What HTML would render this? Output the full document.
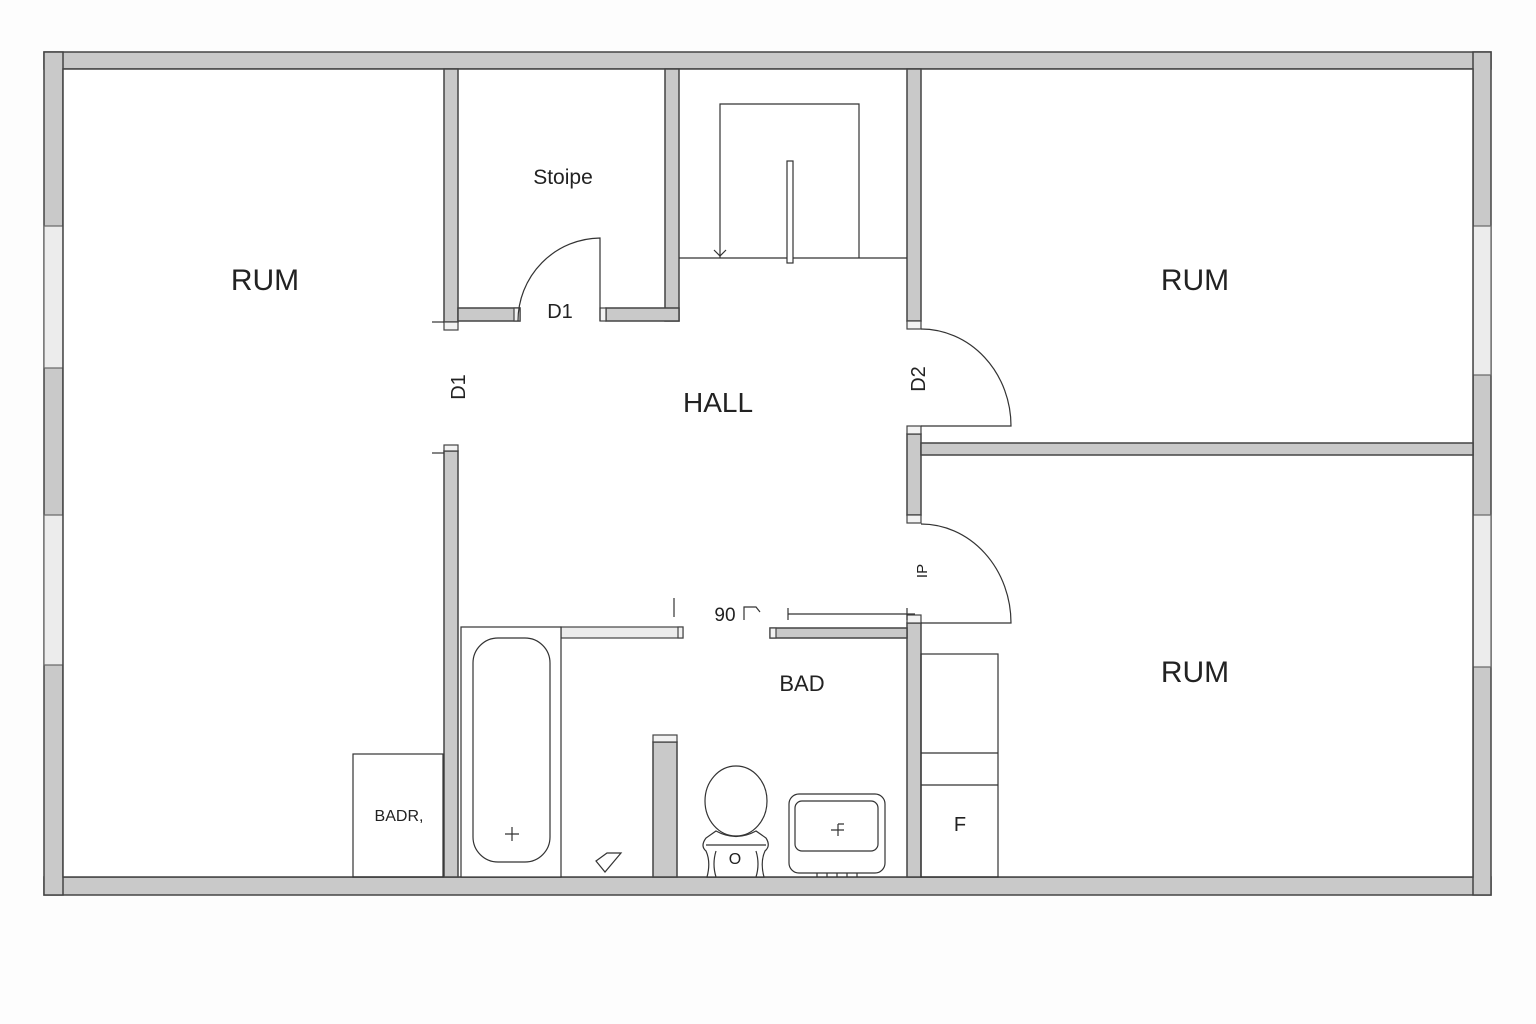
<!DOCTYPE html>
<html><head><meta charset="utf-8"><style>
html,body{margin:0;padding:0;background:#fdfdfd;}
svg{display:block}
text{font-family:"Liberation Sans",sans-serif;fill:#222}
</style></head><body>
<svg width="1536" height="1024" viewBox="0 0 1536 1024" xmlns="http://www.w3.org/2000/svg">
<rect width="1536" height="1024" fill="#fdfdfd"/>
<g stroke="#444" stroke-width="1.5" fill="#c9c9c9">
<!-- outer walls -->
<rect x="44" y="52" width="1447" height="17"/>
<rect x="44" y="877" width="1447" height="18"/>
<rect x="44" y="52" width="19" height="843"/>
<rect x="1473" y="52" width="18" height="843"/>
</g>
<g stroke="#666" stroke-width="1.2" fill="#ececec">
<rect x="44" y="226" width="19" height="142"/>
<rect x="44" y="515" width="19" height="150"/>
<rect x="1473" y="226" width="18" height="149"/>
<rect x="1473" y="515" width="18" height="152"/>
</g>
<rect x="63" y="69" width="1410" height="808" fill="#fff" stroke="#444" stroke-width="1.5"/>
<g stroke="#444" stroke-width="1.5" fill="#c9c9c9">
<!-- Stoipe walls -->
<rect x="444" y="69" width="14" height="253"/>
<rect x="665" y="69" width="14" height="252"/>
<rect x="458" y="308" width="62" height="13"/>
<rect x="606" y="308" width="73" height="13"/>
<!-- left hall wall -->
<rect x="444" y="451" width="14" height="426"/>
<!-- right hall walls -->
<rect x="907" y="69" width="14" height="252"/>
<rect x="907" y="434" width="14" height="81"/>
<rect x="921" y="443" width="552" height="12"/>
<rect x="907" y="623" width="14" height="254"/>
<!-- bad walls -->
<rect x="770" y="628" width="137" height="10"/>
<rect x="653" y="742" width="24" height="135"/>
</g>
<g stroke="#444" stroke-width="1.2" fill="#f2f2f2">
<rect x="444" y="322" width="14" height="8"/>
<rect x="444" y="445" width="14" height="6"/>
<rect x="514" y="308" width="6" height="13"/>
<rect x="600" y="308" width="6" height="13"/>
<rect x="907" y="321" width="14" height="8"/>
<rect x="907" y="426" width="14" height="8"/>
<rect x="907" y="515" width="14" height="8"/>
<rect x="907" y="615" width="14" height="8"/>
<rect x="561" y="627" width="122" height="11" fill="#ececec"/>
<rect x="770" y="628" width="6" height="10"/>
<rect x="678" y="627" width="5" height="11"/>
<rect x="653" y="735" width="24" height="7"/>
</g>
<g stroke="#333" stroke-width="1.2" fill="none">
<line x1="432" y1="322" x2="444" y2="322"/>
<line x1="432" y1="453" x2="444" y2="453"/>
<!-- D1 door -->
<path d="M600 321 L600 238 A83 83 0 0 0 518 321"/>
<!-- stairs -->
<line x1="679" y1="258" x2="907" y2="258"/>
<path d="M720 258 V104 H859 V258"/>
<path d="M714 250 L720 256 L726 250"/>
<rect x="787" y="161" width="6" height="102" fill="#fff"/>
<!-- D2 door -->
<path d="M921 329 A90 97 0 0 1 1011 426 H921"/>
<!-- lower door -->
<path d="M921 524 A90 99 0 0 1 1011 623 H921"/>
<!-- dim marks -->
<line x1="674" y1="598" x2="674" y2="617"/>
<line x1="788" y1="608" x2="788" y2="620"/>
<line x1="788" y1="614" x2="915" y2="614"/>
<line x1="907" y1="608" x2="907" y2="620"/>
<path d="M744 620 V607 H756 L760 612"/>
<!-- bath -->
<rect x="461" y="627" width="100" height="250" fill="#fff"/>
<rect x="473" y="638" width="77" height="224" rx="25"/>
<path d="M505 834 H519 M512 827 V841"/>
<!-- drain -->
<path d="M596 861 L605 872 L621 853 H607 Z"/>
<!-- BADR -->
<rect x="353" y="754" width="90" height="123"/>
<!-- cabinets right -->
<rect x="921" y="654" width="77" height="223"/>
<line x1="921" y1="753" x2="998" y2="753"/>
<line x1="921" y1="785" x2="998" y2="785"/>
<!-- toilet -->
<ellipse cx="736" cy="801" rx="31" ry="35"/>
<path d="M716 831 Q736 842 756 831 L766 838 Q771 846 765 851 Q760 862 764 877 H707 Q711 862 706 851 Q700 846 706 838 Z" fill="#fff"/>
<path d="M706 845 H766"/>
<path d="M716 851 Q712 864 716 877 M756 851 Q760 864 756 877"/>
<!-- sink -->
<rect x="789" y="794" width="96" height="79" rx="10"/>
<rect x="795" y="801" width="83" height="50" rx="7"/>
<path d="M817 873 V877 M827 873 V877 M837 873 V877 M847 873 V877 M857 873 V877"/>
<path d="M831 830 H844 M838 824 V836 M838 824 H844"/>
</g>
<text x="265" y="290" font-size="30" text-anchor="middle">RUM</text>
<text x="1195" y="290" font-size="30" text-anchor="middle">RUM</text>
<text x="1195" y="682" font-size="30" text-anchor="middle">RUM</text>
<text x="563" y="184" font-size="21" text-anchor="middle">Stoipe</text>
<text x="560" y="318" font-size="20" text-anchor="middle">D1</text>
<text x="718" y="412" font-size="28" text-anchor="middle">HALL</text>
<text x="802" y="691" font-size="22" text-anchor="middle">BAD</text>
<text x="725" y="621" font-size="19" text-anchor="middle">90</text>
<text x="399" y="821" font-size="16" text-anchor="middle">BADR,</text>
<text x="960" y="831" font-size="20" text-anchor="middle">F</text>
<text x="735" y="864" font-size="16" text-anchor="middle">O</text>
<text font-size="20" text-anchor="middle" transform="translate(465,387) rotate(-90)">D1</text>
<text font-size="20" text-anchor="middle" transform="translate(925,379) rotate(-90)">D2</text>
<text font-size="15" text-anchor="middle" transform="translate(927,571) rotate(-90)">IP</text>
</svg>
</body></html>
